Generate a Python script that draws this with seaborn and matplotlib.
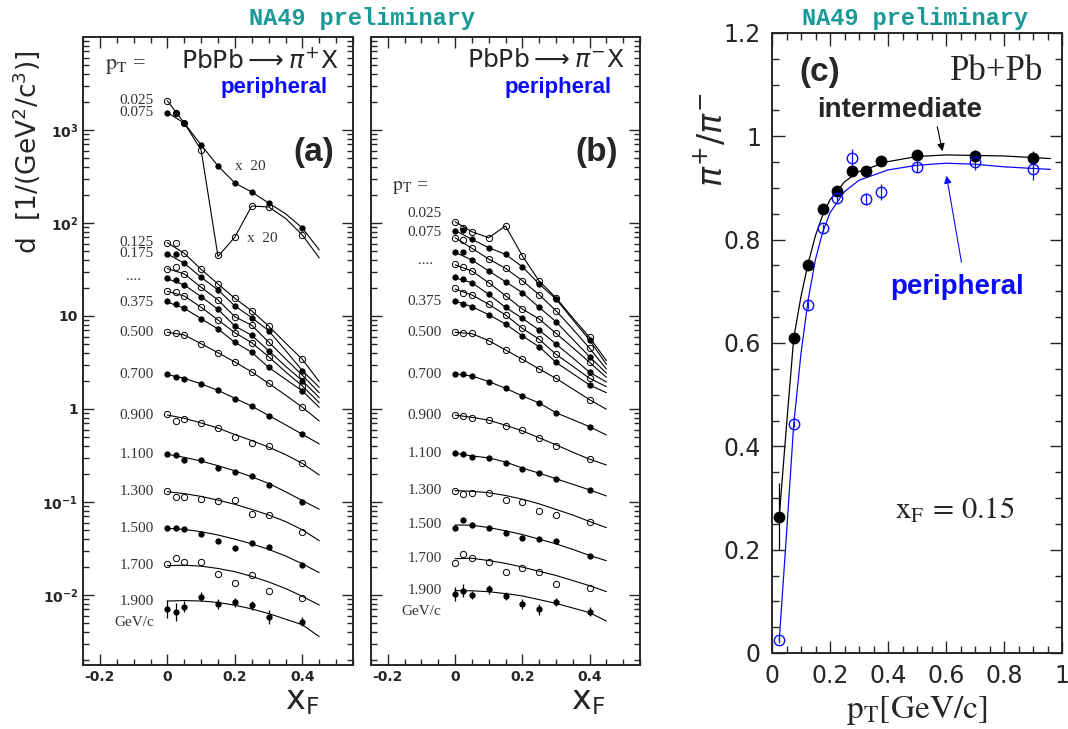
import matplotlib
matplotlib.use('Agg')
import matplotlib.pyplot as plt
import seaborn as sns
import numpy as np
from matplotlib.ticker import MultipleLocator, LogLocator, NullFormatter, FuncFormatter

# x_F of the measured points and of the sampled fit curves
xf_points = [0, 0.025, 0.05, 0.1, 0.15, 0.2, 0.25, 0.3, 0.4]
xf_fit = [0, 0.05, 0.1, 0.15, 0.2, 0.25, 0.3, 0.35, 0.4, 0.45]
pt_rows = [0.025, 0.075, 0.125, 0.175, 0.225, 0.275, 0.325, 0.375,
           0.5, 0.7, 0.9, 1.1, 1.3, 1.5, 1.7, 1.9]

# log10 of the invariant density as plotted (pi+ top two rows already x20)
pip_pts = [
    [3.315, 3.183, 3.075, 2.785, 1.656, 1.849, 2.183, 2.172, 1.871],
    [3.186, 3.183, 3.075, 2.839, 2.613, 2.430, 2.333, 2.215, 1.946],
    [1.788, 1.782, 1.674, 1.502, 1.344, 1.190, 1.054, 0.892, 0.534],
    [1.667, 1.663, 1.567, 1.416, 1.280, 1.108, 0.982, 0.842, 0.412],
    [1.505, 1.524, 1.452, 1.309, 1.172, 0.992, 0.900, 0.720, 0.362],
    [1.412, 1.387, 1.333, 1.208, 1.072, 0.892, 0.792, 0.627, 0.304],
    [1.269, 1.261, 1.215, 1.094, 0.957, 0.820, 0.713, 0.562, 0.247],
    [1.161, 1.126, 1.083, 0.971, 0.860, 0.717, 0.610, 0.448, 0.194],
    [0.825, 0.820, 0.796, 0.702, 0.605, 0.505, 0.398, 0.276, 0.018],
    [0.373, 0.347, 0.326, 0.266, 0.201, 0.111, 0.032, -0.075, -0.272],
    [-0.051, -0.126, -0.111, -0.147, -0.208, -0.298, -0.362, -0.401, -0.577],
    [-0.487, -0.495, -0.548, -0.548, -0.638, -0.674, -0.720, -0.817, -1.000],
    [-0.878, -0.949, -0.949, -0.964, -0.993, -0.978, -1.129, -1.137, -1.319],
    [-1.283, -1.283, -1.287, -1.344, -1.416, -1.491, -1.444, -1.484, -1.677],
    [-1.667, -1.599, -1.642, -1.649, -1.778, -1.868, -1.782, -1.957, -2.029],
    [-2.151, -2.186, -2.126, -2.018, -2.097, -2.079, -2.111, -2.240, -2.287],
]
pip_fit = [
    [3.315, 3.075, 2.785, 1.64, 1.849, 2.183, 2.172, 2.05, 1.871, 1.624],
    [3.186, 3.075, 2.839, 2.613, 2.430, 2.333, 2.215, 2.10, 1.946, 1.71],
    [1.788, 1.674, 1.502, 1.344, 1.190, 1.054, 0.892, 0.71, 0.534, 0.294],
    [1.667, 1.567, 1.416, 1.280, 1.108, 0.982, 0.842, 0.63, 0.412, 0.233],
    [1.51, 1.452, 1.309, 1.172, 0.992, 0.900, 0.720, 0.54, 0.362, 0.175],
    [1.40, 1.333, 1.208, 1.072, 0.892, 0.792, 0.627, 0.46, 0.304, 0.122],
    [1.265, 1.215, 1.094, 0.957, 0.820, 0.713, 0.562, 0.40, 0.247, 0.068],
    [1.15, 1.083, 0.971, 0.860, 0.717, 0.610, 0.448, 0.32, 0.194, 0.018],
    [0.825, 0.796, 0.702, 0.605, 0.505, 0.398, 0.276, 0.15, 0.018, -0.129],
    [0.37, 0.33, 0.27, 0.20, 0.115, 0.03, -0.07, -0.17, -0.272, -0.376],
    [-0.065, -0.10, -0.15, -0.205, -0.275, -0.34, -0.41, -0.49, -0.585, -0.71],
    [-0.487, -0.52, -0.56, -0.61, -0.665, -0.73, -0.80, -0.89, -0.985, -1.078],
    [-0.889, -0.91, -0.94, -0.98, -1.025, -1.08, -1.14, -1.21, -1.30, -1.416],
    [-1.283, -1.295, -1.32, -1.355, -1.40, -1.45, -1.51, -1.58, -1.665, -1.76],
    [-1.685, -1.68, -1.69, -1.715, -1.75, -1.80, -1.86, -1.93, -2.015, -2.108],
    [-2.065, -2.06, -2.065, -2.08, -2.11, -2.15, -2.20, -2.26, -2.32, -2.448],
]
pip_err_19 = [0.10, 0.095, 0.06, 0.05, 0.055, 0.05, 0.05, 0.075, 0.045]

pim_pts = [
    [2.014, 1.949, 1.906, 1.842, 1.968, 1.648, 1.376, 1.197, 0.771],
    [1.917, 1.925, 1.825, 1.734, 1.663, 1.530, 1.344, 1.183, 0.742],
    [1.842, 1.817, 1.728, 1.613, 1.513, 1.380, 1.229, 1.057, 0.653],
    [1.685, 1.691, 1.602, 1.484, 1.369, 1.251, 1.093, 0.939, 0.562],
    [1.559, 1.530, 1.484, 1.358, 1.218, 1.075, 0.968, 0.814, 0.502],
    [1.416, 1.398, 1.358, 1.233, 1.093, 0.975, 0.849, 0.699, 0.395],
    [1.298, 1.251, 1.226, 1.126, 1.011, 0.868, 0.749, 0.588, 0.330],
    [1.161, 1.129, 1.100, 1.014, 0.914, 0.785, 0.670, 0.502, 0.258],
    [0.825, 0.817, 0.814, 0.731, 0.634, 0.534, 0.430, 0.330, 0.097],
    [0.376, 0.376, 0.355, 0.294, 0.223, 0.140, 0.068, -0.047, -0.190],
    [-0.065, -0.072, -0.094, -0.118, -0.183, -0.226, -0.315, -0.398, -0.541],
    [-0.477, -0.487, -0.513, -0.523, -0.577, -0.645, -0.692, -0.753, -0.871],
    [-0.882, -0.914, -0.907, -0.900, -0.978, -0.997, -1.093, -1.143, -1.215],
    [-1.283, -1.194, -1.244, -1.283, -1.330, -1.391, -1.401, -1.419, -1.581],
    [-1.659, -1.562, -1.599, -1.645, -1.753, -1.706, -1.756, -1.885, -1.928],
    [-1.989, -1.957, -2.000, -1.939, -2.011, -2.097, -2.154, -2.075, -2.179],
]
pim_fit = [
    [2.014, 1.906, 1.842, 1.968, 1.648, 1.376, 1.197, 0.98, 0.771, 0.52],
    [1.92, 1.825, 1.734, 1.663, 1.530, 1.344, 1.183, 0.96, 0.742, 0.48],
    [1.842, 1.728, 1.613, 1.513, 1.380, 1.229, 1.057, 0.86, 0.653, 0.43],
    [1.685, 1.602, 1.484, 1.369, 1.251, 1.093, 0.939, 0.75, 0.562, 0.385],
    [1.55, 1.484, 1.358, 1.218, 1.075, 0.968, 0.814, 0.66, 0.502, 0.34],
    [1.41, 1.358, 1.233, 1.093, 0.975, 0.849, 0.699, 0.55, 0.395, 0.29],
    [1.29, 1.226, 1.126, 1.011, 0.868, 0.749, 0.588, 0.46, 0.330, 0.24],
    [1.16, 1.100, 1.014, 0.914, 0.785, 0.670, 0.502, 0.38, 0.258, 0.175],
    [0.825, 0.81, 0.735, 0.635, 0.535, 0.43, 0.33, 0.215, 0.10, -0.003],
    [0.376, 0.355, 0.295, 0.223, 0.14, 0.065, -0.04, -0.115, -0.19, -0.28],
    [-0.065, -0.09, -0.12, -0.175, -0.235, -0.31, -0.385, -0.465, -0.54, -0.602],
    [-0.477, -0.505, -0.525, -0.57, -0.635, -0.69, -0.75, -0.81, -0.87, -0.935],
    [-0.878, -0.885, -0.90, -0.93, -0.97, -1.02, -1.08, -1.14, -1.21, -1.276],
    [-1.247, -1.25, -1.275, -1.31, -1.35, -1.40, -1.45, -1.51, -1.575, -1.631],
    [-1.61, -1.605, -1.63, -1.66, -1.70, -1.745, -1.79, -1.845, -1.90, -1.964],
    [-1.953, -1.955, -1.965, -1.985, -2.01, -2.05, -2.09, -2.14, -2.19, -2.28],
]
pim_err_19 = [0.08, 0.07, 0.04, 0.05, 0.04, 0.055, 0.06, 0.045, 0.05]

# panel (c): pi+/pi- ratio at x_F = 0.15
pt_c = [0.025, 0.075, 0.125, 0.175, 0.225, 0.275, 0.325, 0.375, 0.5, 0.7, 0.9]
ratio_int = [0.264, 0.610, 0.750, 0.859, 0.895, 0.933, 0.932, 0.952, 0.964, 0.961, 0.958]
err_int = [0.065, 0.008, 0.006, 0.006, 0.006, 0.006, 0.006, 0.006, 0.008, 0.012, 0.014]
ratio_per = [0.025, 0.443, 0.673, 0.822, 0.881, 0.959, 0.879, 0.892, 0.941, 0.950, 0.936]
err_per = [0.006, 0.006, 0.008, 0.008, 0.010, 0.016, 0.012, 0.015, 0.011, 0.015, 0.020]
fit_pt_c = [0.025, 0.05, 0.075, 0.1, 0.125, 0.15, 0.175, 0.2, 0.25, 0.3, 0.4, 0.5, 0.6, 0.7, 0.8, 0.96]
fit_int = [0.264, 0.44, 0.61, 0.69, 0.755, 0.808, 0.848, 0.877, 0.912, 0.932, 0.951, 0.961, 0.964, 0.963, 0.962, 0.957]
fit_per = [0.025, 0.23, 0.443, 0.58, 0.685, 0.762, 0.815, 0.852, 0.893, 0.915, 0.935, 0.944, 0.948, 0.946, 0.941, 0.936]

W, H = 1068, 729
BLUE = '#0a0aff'
TEAL = '#1a9a96'


def fxy(x, y):
    # pixel position -> figure fraction
    return x / W, 1 - y / H


sns.set_theme(style='ticks')
plt.rcParams['font.family'] = ['DejaVu Sans']
plt.rcParams['mathtext.fontset'] = 'dejavusans'
plt.rcParams['axes.linewidth'] = 1.4

fig = plt.figure(figsize=(W / 100, H / 100), dpi=100)
ax_a = fig.add_axes([83 / W, 1 - 665 / H, 270 / W, 628 / H])
ax_b = fig.add_axes([371 / W, 1 - 665 / H, 269 / W, 628 / H])
ax_c = fig.add_axes([772 / W, 1 - 653 / H, 290 / W, 620 / H])


def draw_spectra(ax, pts, fit, err19, labelled, nudge):
    ax.set_yscale('log')
    for i, pt in enumerate(pt_rows):
        sns.lineplot(x=xf_fit, y=10 ** np.array(fit[i]), ax=ax, color='black',
                     lw=0.8, sort=False, estimator=None)
        y = 10 ** np.array(pts[i])
        face = 'none' if i % 2 == 0 else 'black'
        ax.plot(xf_points, y, 'o', ms=4.5 if i % 2 == 0 else 3.8, mfc=face,
                mec='black', mew=0.7, zorder=3)
        if i in labelled:
            ax.text(-0.04, 10 ** (fit[i][0] + nudge.get(i, 0)), f'{pt:.3f}', ha='right',
                    va='center', family='Liberation Serif', fontsize=11, color='#333333')
    last = np.array(pts[-1])
    err = np.array(err19)
    ax.vlines(xf_points, 10 ** (last - err), 10 ** (last + err), color='black', lw=0.9)
    ax.text(-0.04, 10 ** (fit[-1][0] - 0.23), 'GeV/c', ha='right', va='center',
            family='Liberation Serif', fontsize=11, color='#333333')

    ax.set_xlim(-0.25, 0.55)
    ax.set_ylim(10 ** -2.753, 1e4)
    ax.xaxis.set_major_locator(MultipleLocator(0.2))
    ax.xaxis.set_minor_locator(MultipleLocator(0.05))
    ax.xaxis.set_major_formatter(FuncFormatter(lambda v, p: '0' if abs(v) < 1e-9 else f'{v:.1f}'))
    ax.set_yticks([1e-2, 1e-1, 1, 10, 1e2, 1e3])
    ax.set_yticklabels([r'$\mathbf{10^{-2}}$', r'$\mathbf{10^{-1}}$', '1', '10',
                        r'$\mathbf{10^{2}}$', r'$\mathbf{10^{3}}$'])
    ax.yaxis.set_minor_locator(LogLocator(base=10, subs=np.arange(2, 10), numticks=20))
    ax.yaxis.set_minor_formatter(NullFormatter())
    ax.tick_params(which='both', direction='in', top=True, right=True, width=1.0)
    ax.tick_params(which='major', length=8, labelsize=10)
    ax.tick_params(which='minor', length=4)
    for lab in ax.get_xticklabels() + ax.get_yticklabels():
        lab.set_fontweight('bold')
    ax.set_xlabel('')
    ax.set_ylabel('')


draw_spectra(ax_a, pip_pts, pip_fit, pip_err_19, [0, 1, 2, 3] + list(range(7, 16)), {})
draw_spectra(ax_b, pim_pts, pim_fit, pim_err_19, [0, 1] + list(range(7, 16)),
             {0: 0.09, 1: -0.02})
ax_b.tick_params(labelleft=False)

ax_a.text(-0.1, 10 ** 1.42, '....', ha='center', va='center', family='Liberation Serif',
          fontsize=11, color='#333333')
ax_b.text(-0.088, 10 ** 1.60, '....', ha='center', va='center', family='Liberation Serif',
          fontsize=11, color='#333333')

# panel (a)/(b) annotations
fig.text(*fxy(126, 67), r'$\mathrm{p_T}$ =', ha='center', va='center', fontsize=16,
         family='Liberation Serif', math_fontfamily='stix', color='#333333')
fig.text(*fxy(410, 187), r'$\mathrm{p_T}$ =', ha='center', va='center', fontsize=14,
         family='Liberation Serif', math_fontfamily='stix', color='#333333')
fig.text(*fxy(235, 166), 'x  20', ha='left', va='center', fontsize=11,
         family='Liberation Serif', color='#333333')
fig.text(*fxy(247, 239), 'x  20', ha='left', va='center', fontsize=11,
         family='Liberation Serif', color='#333333')
fig.text(*fxy(338, 60), r'PbPb$\longrightarrow\pi^{+}$X', ha='right', va='center', fontsize=18)
fig.text(*fxy(624, 60), r'PbPb$\longrightarrow\pi^{-}$X', ha='right', va='center', fontsize=18)
fig.text(*fxy(328, 88), 'peripheral', ha='right', va='center', fontsize=16,
         family='Liberation Sans', weight='bold', color=BLUE)
fig.text(*fxy(612, 88), 'peripheral', ha='right', va='center', fontsize=16,
         family='Liberation Sans', weight='bold', color=BLUE)
fig.text(*fxy(334, 152), '(a)', ha='right', va='center', fontsize=24,
         family='Liberation Sans', weight='bold')
fig.text(*fxy(618, 152), '(b)', ha='right', va='center', fontsize=24,
         family='Liberation Sans', weight='bold')
fig.text(*fxy(26, 152), r'd  [1/(GeV$^2$/c$^3$)]', rotation=90, ha='center', va='center',
         fontsize=19)
fig.text(*fxy(302, 700), r'x$_\mathrm{F}$', ha='center', va='center', fontsize=24)
fig.text(*fxy(588, 700), r'x$_\mathrm{F}$', ha='center', va='center', fontsize=24)
for cx in (362, 915):
    fig.text(*fxy(cx, 18), 'NA49 preliminary', ha='center', va='center', fontsize=17,
             family='Liberation Mono', weight='bold', color=TEAL)

# panel (c)
sns.lineplot(x=fit_pt_c, y=fit_int, ax=ax_c, color='black', lw=0.9, sort=False, estimator=None)
sns.lineplot(x=fit_pt_c, y=fit_per, ax=ax_c, color=BLUE, lw=0.9, sort=False, estimator=None)
ax_c.errorbar(pt_c, ratio_int, yerr=err_int, fmt='o', ms=7.5, color='black',
              elinewidth=0.9, capsize=0, zorder=3)
ax_c.errorbar(pt_c, ratio_per, yerr=err_per, fmt='o', ms=7.5, mfc='none', mec=BLUE,
              ecolor=BLUE, mew=1.0, elinewidth=0.9, capsize=0, zorder=3)
ax_c.annotate('', xy=(0.59, 0.966), xytext=(0.568, 1.024),
              arrowprops=dict(arrowstyle='-|>', color='black', lw=0.8, mutation_scale=11))
ax_c.annotate('', xy=(0.60, 0.929), xytext=(0.655, 0.751),
              arrowprops=dict(arrowstyle='-|>', color=BLUE, lw=0.8, mutation_scale=11))
ax_c.set_xlim(0, 1)
ax_c.set_ylim(0, 1.2)
ax_c.xaxis.set_major_locator(MultipleLocator(0.2))
ax_c.xaxis.set_minor_locator(MultipleLocator(0.05))
ax_c.yaxis.set_major_locator(MultipleLocator(0.2))
ax_c.yaxis.set_minor_locator(MultipleLocator(0.05))
ax_c.xaxis.set_major_formatter(FuncFormatter(lambda v, p: f'{v:g}'))
ax_c.yaxis.set_major_formatter(FuncFormatter(lambda v, p: f'{v:g}'))
ax_c.tick_params(which='both', direction='in', top=True, right=True, width=1.0)
ax_c.tick_params(which='major', length=9, labelsize=17, pad=8)
ax_c.tick_params(which='minor', length=5)
ax_c.set_xlabel(r'$\mathrm{p_T[GeV/c]}$', fontsize=24, math_fontfamily='stix', labelpad=4)
ax_c.set_ylabel('')
fig.text(*fxy(712, 140), r'$\pi^{+}/\pi^{-}$', rotation=90, ha='center', va='center', fontsize=24)
fig.text(*fxy(820, 72), '(c)', ha='center', va='center', fontsize=24,
         family='Liberation Sans', weight='bold')
fig.text(*fxy(997, 72), 'Pb+Pb', ha='center', va='center', fontsize=25,
         family='Liberation Serif')
fig.text(*fxy(900, 110), 'intermediate', ha='center', va='center', fontsize=20,
         family='Liberation Sans', weight='bold')
fig.text(*fxy(957, 287), 'peripheral', ha='center', va='center', fontsize=20,
         family='Liberation Sans', weight='bold', color=BLUE)
fig.text(*fxy(955, 510), r'$\mathrm{x_F}\,=\,\mathrm{0.15}$', ha='center', va='center',
         fontsize=22, math_fontfamily='stix')

fig.savefig('out.png', dpi=100)
plt.close(fig)
